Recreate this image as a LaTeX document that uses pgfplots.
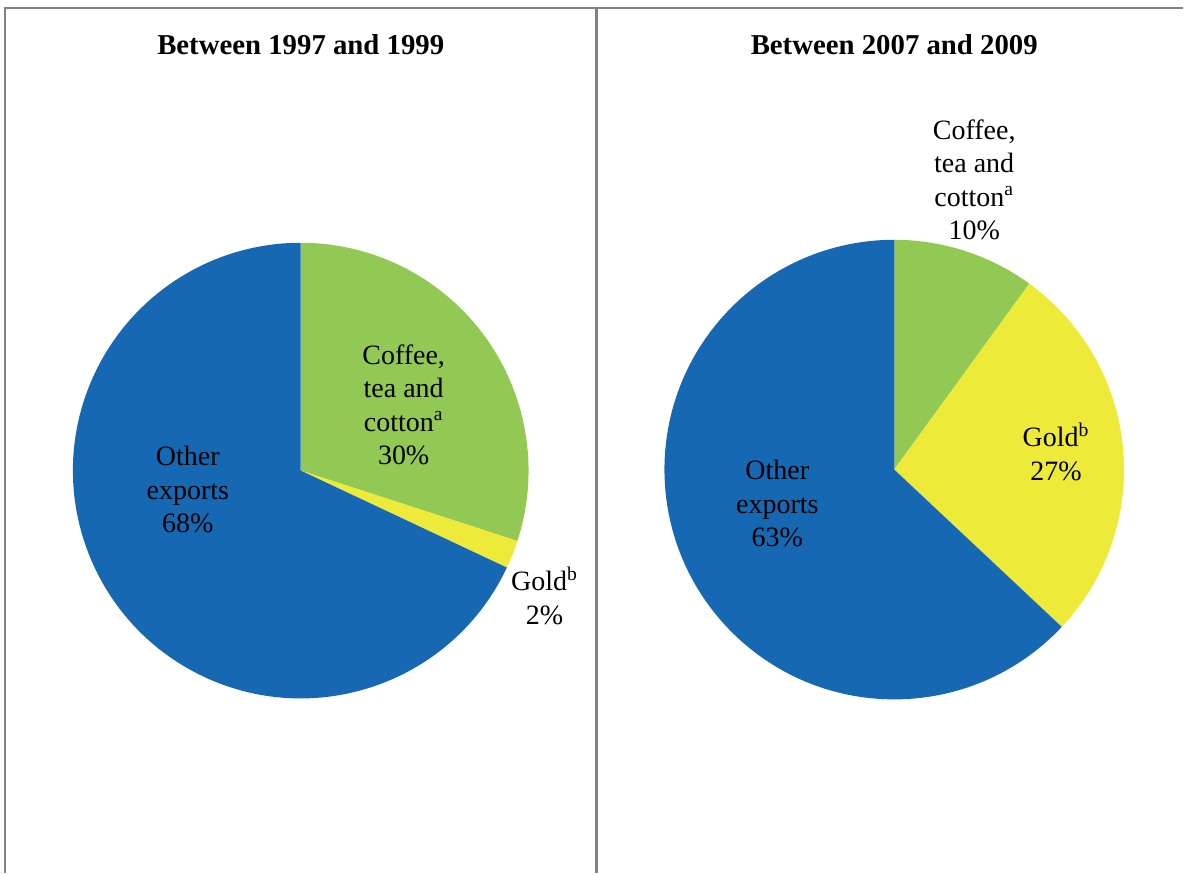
\documentclass[border=0pt]{standalone}
\usepackage{pgfplots}
\pgfplotsset{compat=1.18}
\usepackage{fontspec}
\setmainfont{Liberation Serif}
\definecolor{cgreen}{RGB}{146,200,84}
\definecolor{cyellow}{RGB}{238,234,58}
\definecolor{cblue}{RGB}{22,104,178}
\definecolor{cframe}{RGB}{130,130,130}
\begin{document}
\begin{tikzpicture}
\begin{axis}[width=592pt,height=437pt,scale only axis,hide axis,
  xmin=0,xmax=1184,ymin=0,ymax=874,clip=false]
\pgfplotsextra{
  % left pie: Coffee 30, Gold 2, Other 68 (start cumulative / value / colour)
  \foreach \s/\v/\c in {0/30/cgreen,30/2/cyellow,32/68/cblue}{
    \fill[\c] (axis cs:301,403) -- ++({90-3.6*\s}:114pt)
      arc[start angle={90-3.6*\s}, delta angle={-3.6*\v}, radius=114pt] -- cycle;
  }
  % right pie: Coffee 10, Gold 27, Other 63
  \foreach \s/\v/\c in {0/10/cgreen,10/27/cyellow,37/63/cblue}{
    \fill[\c] (axis cs:895,404) -- ++({90-3.6*\s}:115pt)
      arc[start angle={90-3.6*\s}, delta angle={-3.6*\v}, radius=115pt] -- cycle;
  }
  % frames
  \draw[cframe,line width=1pt] (axis cs:5,866) -- (axis cs:1184,866);
  \draw[cframe,line width=0.8pt] (axis cs:5,866.5) -- (axis cs:5,0);
  \draw[cframe,line width=1.5pt] (axis cs:597,866.5) -- (axis cs:597,0);
}
\path (axis cs:0,0) rectangle (axis cs:1184,874);
\node[font=\fontsize{14.4}{17}\selectfont\bfseries] at (axis cs:301,829) {Between 1997 and 1999};
\node[font=\fontsize{14.4}{17}\selectfont\bfseries] at (axis cs:895,829) {Between 2007 and 2009};
\node[align=center,font=\fontsize{14}{16.75}\selectfont] at (axis cs:404,469) {Coffee,\\tea and\\cotton\textsuperscript{a}\\30\%};
\node[align=center,font=\fontsize{14}{16.75}\selectfont] at (axis cs:188,384) {Other\\exports\\68\%};
\node[align=center,font=\fontsize{14}{16.75}\selectfont] at (axis cs:545,278) {Gold\textsuperscript{b}\\2\%};
\node[align=center,font=\fontsize{14}{16.75}\selectfont] at (axis cs:975,694) {Coffee,\\tea and\\cotton\textsuperscript{a}\\10\%};
\node[align=center,font=\fontsize{14}{16.75}\selectfont] at (axis cs:1057,422) {Gold\textsuperscript{b}\\27\%};
\node[align=center,font=\fontsize{14}{16.75}\selectfont] at (axis cs:778,370) {Other\\exports\\63\%};
\end{axis}
\end{tikzpicture}
\end{document}
